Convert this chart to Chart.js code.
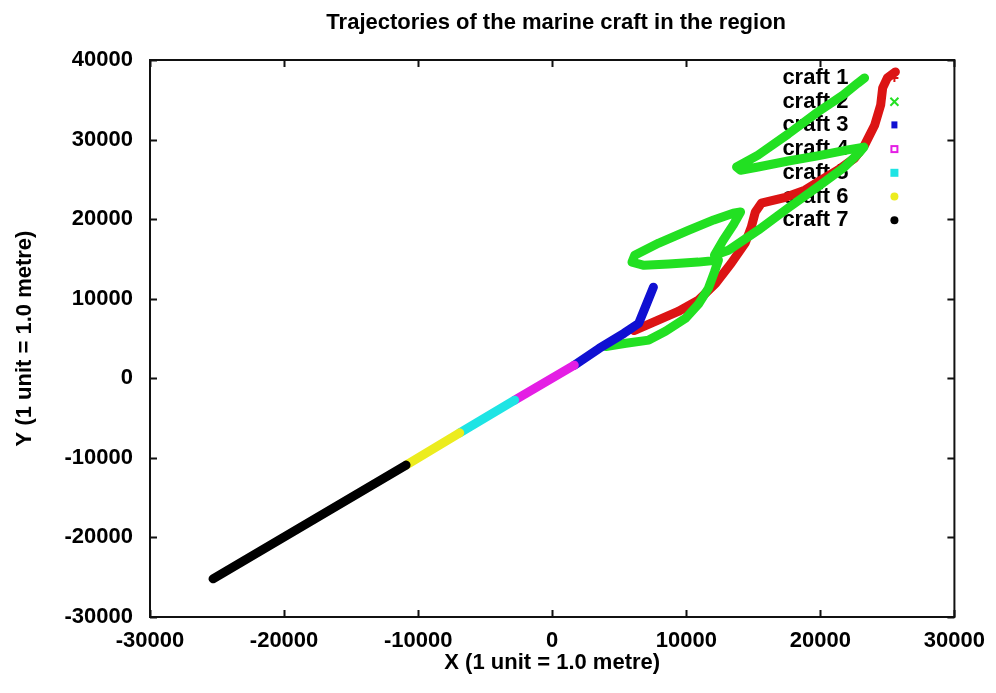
<!DOCTYPE html>
<html>
<head>
<meta charset="utf-8">
<title>Trajectories of the marine craft in the region</title>
<script src="https://cdn.jsdelivr.net/npm/chart.js@4.4.0/dist/chart.umd.min.js"></script>
<style>
  html, body { margin: 0; padding: 0; background: #fff; }
  #wrap { width: 996px; height: 693px; }
</style>
</head>
<body>
<div id="wrap"><canvas id="chart" width="996" height="693"></canvas></div>
<script>
// Craft positions in metres, [x, y]
const craft1 = [[6100, 6000], [7900, 7300], [9400, 8400], [10900, 9800], [12200, 11950], [13350, 14450],
  [14400, 17000], [14850, 19000], [15150, 20900], [15600, 22000], [17400, 22750], [18850, 23650],
  [20050, 24900], [21300, 26150], [22550, 27650], [23300, 29300], [24050, 31800], [24500, 34350],
  [24650, 36500], [25000, 37750], [25600, 38500]];
const craft2 = [[4000, 4000], [5500, 4400], [7200, 4800], [8450, 5900], [9950, 7550], [10900, 9300],
  [11650, 11300], [12100, 13350], [12400, 14850], [10900, 14600], [8700, 14350], [6850, 14200],
  [5950, 14600], [6150, 15450], [7950, 17000], [10150, 18600], [12050, 19900], [13500, 20750],
  [14050, 20900], [13500, 19250], [12750, 17350], [12100, 15450], [13150, 16100], [15350, 18600],
  [17600, 21400], [19800, 24050], [21700, 26400], [22950, 28450], [23250, 29050], [22050, 28700],
  [19800, 27950], [17600, 27300], [15350, 26550], [14050, 26150], [13750, 26550], [15350, 28050],
  [17600, 30700], [19800, 33450], [21700, 35600], [22800, 37100], [23300, 37750]];
const craft3 = [[1650, 1650], [3500, 3750], [5350, 5650], [6450, 6900], [6850, 8550], [7550, 11450]];
const craft4 = [[-2800, -2750], [1650, 1650]];
const craft5 = [[-6900, -6850], [-2800, -2750]];
const craft6 = [[-10900, -10900], [-6900, -6850]];
const craft7 = [[-25300, -25200], [-10900, -10900]];

const labels = ['craft 1', 'craft 2', 'craft 3', 'craft 4', 'craft 5', 'craft 6', 'craft 7'];
const colors = ['#dc1414', '#22e022', '#1010d2', '#e41ee4', '#1ee4e4', '#ecec1e', '#000000'];
const markers = ['plus', 'cross', 'star', 'openSquare', 'square', 'circle', 'disc'];
const tracks = [craft1, craft2, craft3, craft4, craft5, craft6, craft7];

const xTicks = [-30000, -20000, -10000, 0, 10000, 20000, 30000];
const yTicks = [-30000, -20000, -10000, 0, 10000, 20000, 30000, 40000];

const TITLE = 'Trajectories of the marine craft in the region';
const FONT = { family: "'Liberation Sans', Arial, Helvetica, sans-serif", size: 22, weight: 'bold' };
const fontStr = `${FONT.weight} ${FONT.size}px ${FONT.family}`;

function drawMarker(ctx, kind, x, y, color) {
  const r = 4;
  ctx.save();
  ctx.strokeStyle = color;
  ctx.fillStyle = color;
  ctx.lineWidth = 2;
  ctx.beginPath();
  if (kind === 'plus') {
    ctx.moveTo(x - r, y); ctx.lineTo(x + r, y);
    ctx.moveTo(x, y - r); ctx.lineTo(x, y + r);
    ctx.stroke();
  } else if (kind === 'cross') {
    ctx.moveTo(x - r, y - r); ctx.lineTo(x + r, y + r);
    ctx.moveTo(x + r, y - r); ctx.lineTo(x - r, y + r);
    ctx.stroke();
  } else if (kind === 'star') {
    ctx.fillRect(x - r + 1, y - r, 2 * r - 2, 2 * r - 1);
  } else if (kind === 'openSquare') {
    ctx.strokeRect(x - r + 1, y - r + 1, 2 * r - 2, 2 * r - 2);
  } else if (kind === 'square') {
    ctx.fillRect(x - r, y - r, 2 * r, 2 * r);
  } else {
    ctx.arc(x, y, r, 0, Math.PI * 2);
    ctx.fill();
  }
  ctx.restore();
}

// gnuplot-style border with inward ticks on all four sides, title over the plot, and the key
const framePlugin = {
  id: 'frame',
  beforeDatasetsDraw(chart) {
    const { ctx, chartArea: a, scales } = chart;
    ctx.save();
    ctx.strokeStyle = '#111';
    ctx.lineWidth = 2;
    ctx.strokeRect(a.left, a.top, a.right - a.left, a.bottom - a.top);
    ctx.beginPath();
    const t = 7;
    xTicks.forEach(v => {
      const px = Math.round(scales.x.getPixelForValue(v)) + 0.5;
      ctx.moveTo(px, a.bottom); ctx.lineTo(px, a.bottom - t);
      ctx.moveTo(px, a.top); ctx.lineTo(px, a.top + t);
    });
    yTicks.forEach(v => {
      const py = Math.round(scales.y.getPixelForValue(v)) + 0.5;
      ctx.moveTo(a.left, py); ctx.lineTo(a.left + t, py);
      ctx.moveTo(a.right, py); ctx.lineTo(a.right - t, py);
    });
    ctx.stroke();

    ctx.font = fontStr;
    ctx.fillStyle = '#000';
    ctx.textBaseline = 'middle';
    ctx.textAlign = 'center';
    ctx.fillText(TITLE, (a.left + a.right) / 2 + 4, a.top - 37);

    // key, drawn before the tracks so they pass over it
    ctx.textAlign = 'right';
    chart.data.datasets.forEach((ds, i) => {
      const y = a.top + 18 + i * 23.7;
      ctx.fillText(ds.label, a.right - 106, y);
      drawMarker(ctx, markers[i], a.right - 60, y, ds.borderColor);
    });
    ctx.restore();
  }
};

const datasets = tracks.map((pts, i) => ({
  label: labels[i],
  data: pts.map(p => ({ x: p[0], y: p[1] })),
  borderColor: colors[i],
  backgroundColor: colors[i],
  showLine: true,
  borderWidth: 9,
  borderCapStyle: 'round',
  borderJoinStyle: 'round',
  pointRadius: 0,
  tension: 0,
  // later craft are drawn on top of earlier ones
  order: tracks.length - i
}));

new Chart(document.getElementById('chart'), {
  type: 'scatter',
  data: { datasets },
  plugins: [framePlugin],
  options: {
    responsive: false,
    animation: false,
    layout: { padding: { left: 0, right: 39, top: 60, bottom: 0 } },
    plugins: {
      legend: { display: false },
      tooltip: { enabled: false },
      title: { display: false }
    },
    scales: {
      x: {
        type: 'linear',
        min: -30000, max: 30000,
        afterFit: s => { s.height = 76; },
        afterBuildTicks: s => { s.ticks = xTicks.map(v => ({ value: v })); },
        grid: { display: false, drawTicks: false },
        border: { display: false },
        ticks: { color: '#000', font: FONT, padding: 11, maxRotation: 0, autoSkip: false, callback: v => String(v) },
        title: { display: true, text: 'X (1 unit = 1.0 metre)', color: '#000', font: FONT, padding: { top: 0, bottom: 17 } }
      },
      y: {
        type: 'linear',
        min: -30000, max: 40000,
        afterFit: s => { s.width = 150; },
        afterBuildTicks: s => { s.ticks = yTicks.map(v => ({ value: v })); },
        grid: { display: false, drawTicks: false },
        border: { display: false },
        ticks: { color: '#000', font: FONT, padding: 17, autoSkip: false, callback: v => String(v) },
        title: { display: true, text: 'Y (1 unit = 1.0 metre)', color: '#000', font: FONT, padding: { top: 12, bottom: 0 } }
      }
    }
  }
});
</script>
</body>
</html>
